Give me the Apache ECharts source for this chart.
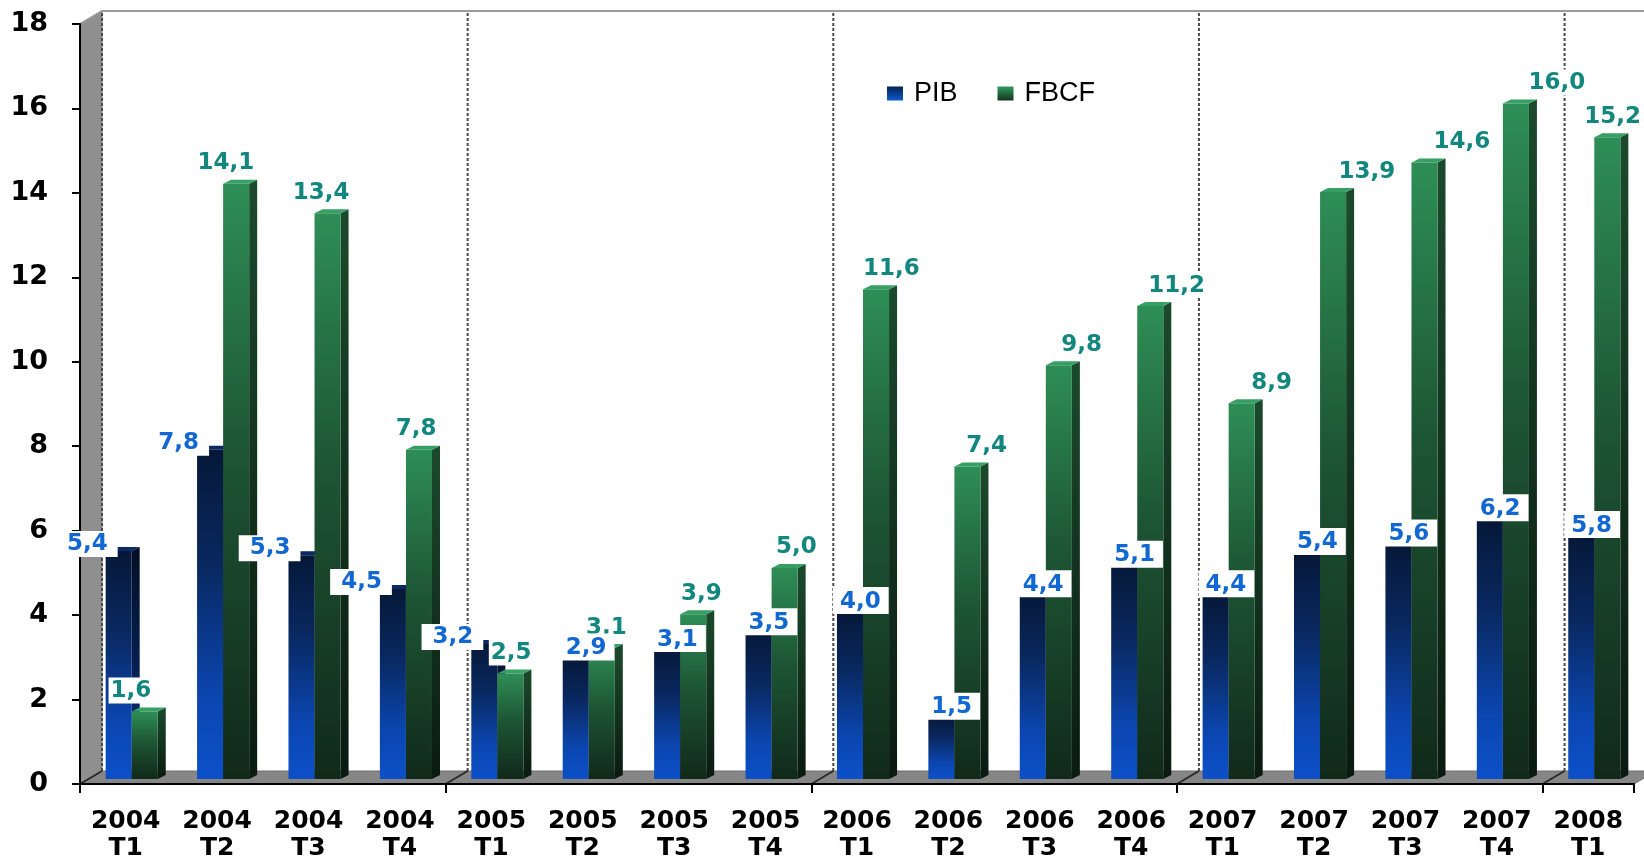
<!DOCTYPE html>
<html>
<head>
<meta charset="utf-8">
<title>PIB et FBCF</title>
<script src="https://cdn.jsdelivr.net/npm/echarts@6/dist/echarts.min.js"></script>
<style>
html, body { margin: 0; padding: 0; background: #fff; overflow: hidden; }
#chart { width: 1644px; height: 900px; }
</style>
</head>
<body>
<div id="chart"></div>
<script>
// data
const years = ['2004', '2004', '2004', '2004', '2005', '2005', '2005', '2005', '2006', '2006', '2006', '2006', '2007', '2007', '2007', '2007', '2008']
const quarters = ['T1', 'T2', 'T3', 'T4', 'T1', 'T2', 'T3', 'T4', 'T1', 'T2', 'T3', 'T4', 'T1', 'T2', 'T3', 'T4', 'T1']
const pibValues = [5.4, 7.8, 5.3, 4.5, 3.2, 2.9, 3.1, 3.5, 4.0, 1.5, 4.4, 5.1, 4.4, 5.4, 5.6, 6.2, 5.8]
const fbcfValues = [1.6, 14.1, 13.4, 7.8, 2.5, 3.1, 3.9, 5.0, 11.6, 7.4, 9.8, 11.2, 8.9, 13.9, 14.6, 16.0, 15.2]
const yearStarts = [0, 4, 8, 12, 16]
const Y_MIN = 0
const Y_MAX = 18
const Y_STEP = 2

const categories = years.map((y, i) => y + '\n' + quarters[i])
const pibData = pibValues.map((v, i) => [i, v])
const fbcfData = fbcfValues.map((v, i) => [i, v])

// 3d look
const WALL_DX = 22
const WALL_DY = -13
const BAR_DX = 8
const BAR_DY = -4
const BAR_SHIFT_X = 6
const BAR_SHIFT_Y = -5
const BAR_W_RATIO = 0.285
// the first PIB labels sit left of their bar, the others on top of it
const PIB_LEFT_LABELS = 5
// perspective: FBCF labels drift right the further right the bar is
const LABEL_DRIFT = 0.04
const LABEL_DRIFT_ORIGIN = 490

const FONT = '"DejaVu Sans", Verdana, sans-serif'
const LABEL_FONT = 'bold 23px ' + FONT
const grad = stops => new echarts.graphic.LinearGradient(0, 0, 0, 1,
	stops.map(([offset, color]) => ({ offset, color })))

const measureCtx = document.createElement('canvas').getContext('2d')
measureCtx.font = LABEL_FONT
const textWidth = t => measureCtx.measureText(t).width

const pibFaces = {
	front: grad([[0, '#061838'], [0.35, '#09285f'], [0.75, '#0b46b0'], [1, '#0c50c8']]),
	side: grad([[0, '#030e24'], [1, '#07307f']]),
	top: '#0b2a64',
}
const fbcfFaces = {
	front: grad([[0, '#2e8e56'], [0.45, '#1d5534'], [1, '#11291a']]),
	side: grad([[0, '#1b4a2c'], [1, '#0a1a10']]),
	top: '#37a064',
}

const fmt = v => v.toFixed(1).replace('.', ',')

const barGeom = (api, left) => {
	const cat = api.value(0)
	const base = api.coord([cat, 0])
	const top = api.coord([cat, api.value(1)])
	const w = api.size([1, 0])[0] * BAR_W_RATIO
	const cx = base[0] + BAR_SHIFT_X
	const x0 = left ? cx - w : cx
	return { x0, x1: x0 + w, w, yTop: top[1] + BAR_SHIFT_Y, yBase: base[1] + BAR_SHIFT_Y }
}

const renderBar = (faces, left) => (params, api) => {
	const g = barGeom(api, left)
	return {
		type: 'group',
		children: [
			{
				type: 'polygon',
				shape: { points: [[g.x1, g.yTop], [g.x1 + BAR_DX, g.yTop + BAR_DY], [g.x1 + BAR_DX, g.yBase + BAR_DY], [g.x1, g.yBase]] },
				style: { fill: faces.side },
			},
			{
				type: 'polygon',
				shape: { points: [[g.x0, g.yTop], [g.x0 + BAR_DX, g.yTop + BAR_DY], [g.x1 + BAR_DX, g.yTop + BAR_DY], [g.x1, g.yTop]] },
				style: { fill: faces.top },
			},
			{
				type: 'rect',
				shape: { x: g.x0, y: g.yTop, width: g.w, height: g.yBase - g.yTop },
				style: { fill: faces.front },
			},
		],
	}
}

const labelStyle = (text, color, padding) => ({
	text,
	fill: color,
	font: LABEL_FONT,
	backgroundColor: '#fff',
	padding,
})

const renderPibLabel = (params, api) => {
	const g = barGeom(api, true)
	const text = fmt(api.value(1))
	if (params.dataIndex < PIB_LEFT_LABELS) {
		return {
			type: 'text',
			x: g.x0 + 12,
			y: g.yTop - 7,
			style: Object.assign(labelStyle(text, '#1268d2', [2, 10, 1, 11]), { align: 'right', verticalAlign: 'middle' }),
		}
	}
	return {
		type: 'text',
		x: g.x0 - 4,
		y: g.yTop + 4,
		style: Object.assign(labelStyle(text, '#1268d2', [3, 8, 1, 7]), { align: 'left', verticalAlign: 'bottom' }),
	}
}

const renderFbcfLabel = (params, api) => {
	const g = barGeom(api, false)
	const text = fmt(api.value(1))
	const mid = g.x0 + g.w / 2
	const half = textWidth(text) / 2
	const cx = Math.min(mid + (mid - LABEL_DRIFT_ORIGIN) * LABEL_DRIFT, 1641 - half)
	return {
		type: 'text',
		x: cx,
		y: g.yTop - 8,
		style: Object.assign(labelStyle(text, '#12877f', [2, 2, 1, 2]), { align: 'center', verticalAlign: 'bottom' }),
	}
}

const renderDecor = (params, api) => {
	const band = api.size([1, 0])[0]
	const left = api.coord([0, 0])[0] - band / 2
	const right = api.coord([categories.length - 1, 0])[0] + band / 2
	const y0 = api.coord([0, Y_MIN])[1]
	const yTop = api.coord([0, Y_MAX])[1]
	const children = [
		// left wall
		{
			type: 'polygon',
			shape: { points: [[left, yTop], [left + WALL_DX, yTop + WALL_DY], [left + WALL_DX, y0 + WALL_DY], [left, y0]] },
			style: { fill: '#8f8f8f', stroke: '#777', lineWidth: 1 },
		},
		// floor
		{
			type: 'polygon',
			shape: { points: [[left, y0], [left + WALL_DX, y0 + WALL_DY], [right + WALL_DX, y0 + WALL_DY], [right, y0]] },
			style: { fill: '#868686', stroke: '#6e6e6e', lineWidth: 1 },
		},
		// top edge of the back
		{
			type: 'polyline',
			shape: { points: [[left, yTop], [left + WALL_DX, yTop + WALL_DY], [1644, yTop + WALL_DY]] },
			style: { stroke: '#9a9a9a', lineWidth: 2, fill: null },
		},
	]
	yearStarts.forEach(k => {
		const bx = left + k * band
		children.push({
			type: 'line',
			shape: { x1: bx + WALL_DX, y1: y0 + WALL_DY, x2: bx + WALL_DX, y2: yTop + WALL_DY },
			style: { stroke: '#4a4a4a', lineWidth: 2, lineDash: [3, 2] },
		})
		children.push({
			type: 'line',
			shape: { x1: bx, y1: y0, x2: bx + WALL_DX, y2: y0 + WALL_DY },
			style: { stroke: '#2a2a2a', lineWidth: 2 },
		})
	})
	return { type: 'group', children }
}

const chart = echarts.init(document.getElementById('chart'))

chart.setOption({
	animation: false,
	backgroundColor: '#fff',
	// the div is taller than the window; bottom 116 puts the zero line at y=784
	grid: { left: 80, right: 10, top: 24, bottom: 116 },
	legend: {
		data: ['PIB', 'FBCF'],
		left: 887,
		top: 80,
		padding: 0,
		itemWidth: 16,
		itemHeight: 14,
		itemGap: 40,
		icon: 'rect',
		textStyle: {
			fontFamily: '"Liberation Sans", Arial, sans-serif',
			fontSize: 27,
			color: '#000',
			padding: [0, 0, 0, 6],
		},
	},
	xAxis: {
		type: 'category',
		data: categories,
		z: 5,
		axisLine: { lineStyle: { color: '#000', width: 2 } },
		axisTick: {
			show: true,
			interval: i => yearStarts.includes(i),
			length: 9,
			lineStyle: { color: '#000', width: 2 },
		},
		axisLabel: {
			interval: 0,
			margin: 24,
			color: '#000',
			fontFamily: FONT,
			fontWeight: 'bold',
			fontSize: 25,
			lineHeight: 27,
		},
	},
	yAxis: {
		type: 'value',
		min: Y_MIN,
		max: Y_MAX,
		interval: Y_STEP,
		z: 5,
		axisLine: { show: true, lineStyle: { color: '#000', width: 2 } },
		axisTick: { show: true, inside: false, length: 8, lineStyle: { color: '#000', width: 2 } },
		axisLabel: {
			margin: 32,
			color: '#000',
			fontFamily: FONT,
			fontWeight: 'bold',
			fontSize: 27,
			padding: [7, 0, 0, 0],
		},
		splitLine: { show: false },
	},
	series: [
		{
			type: 'custom',
			name: 'decor',
			z: 1,
			silent: true,
			renderItem: renderDecor,
			data: [[0, 0]],
		},
		{
			type: 'custom',
			name: 'PIB',
			z: 2,
			itemStyle: { color: grad([[0, '#06224f'], [1, '#0b5ad0']]) },
			renderItem: renderBar(pibFaces, true),
			encode: { x: 0, y: 1 },
			data: pibData,
		},
		{
			type: 'custom',
			name: 'FBCF',
			z: 3,
			itemStyle: { color: grad([[0, '#2f9a5e'], [1, '#14361f']]) },
			renderItem: renderBar(fbcfFaces, false),
			encode: { x: 0, y: 1 },
			data: fbcfData,
		},
		{
			type: 'custom',
			name: 'FBCF labels',
			z: 10,
			silent: true,
			renderItem: renderFbcfLabel,
			encode: { x: 0, y: 1 },
			data: fbcfData,
		},
		{
			type: 'custom',
			name: 'PIB labels',
			z: 11,
			silent: true,
			renderItem: renderPibLabel,
			encode: { x: 0, y: 1 },
			data: pibData,
		},
	],
})
</script>
</body>
</html>
